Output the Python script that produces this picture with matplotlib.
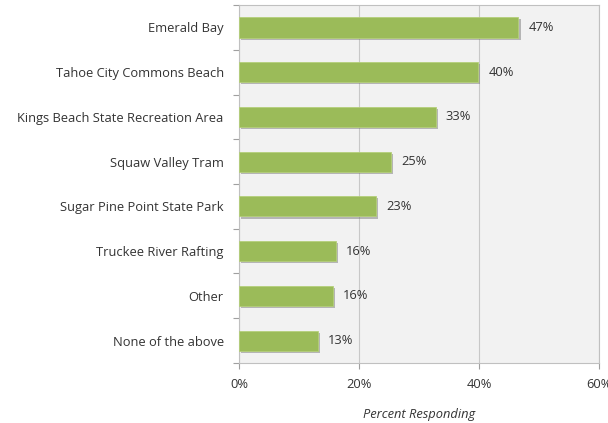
import matplotlib
matplotlib.use("Agg")
import matplotlib.pyplot as plt
import matplotlib.patheffects as pe
from matplotlib.ticker import FuncFormatter, FixedLocator

categories = ["Emerald Bay", "Tahoe City Commons Beach", "Kings Beach State Recreation Area",
              "Squaw Valley Tram", "Sugar Pine Point State Park", "Truckee River Rafting",
              "Other", "None of the above"]
values = [46.6, 39.9, 32.8, 25.3, 22.9, 16.1, 15.6, 13.2]
labels = ["47%", "40%", "33%", "25%", "23%", "16%", "16%", "13%"]
xticks = [0, 20, 40, 60]

plt.rcParams['font.family'] = ['Open Sans', 'DejaVu Sans']
fs = 9.3
tc = '#333333'

fig = plt.figure(figsize=(6.08, 4.23), dpi=100)
ax = fig.add_axes([0.393, 0.142, 0.592, 0.846])
ax.set_facecolor('#F2F2F2')

y = list(range(len(categories)))
bars = ax.barh(y, values, height=0.45, color='#9BBB59', edgecolor='#B5CF7A', linewidth=0.6, zorder=3)
for b in bars:
    b.set_path_effects([pe.SimplePatchShadow(offset=(1.5, -1.5), shadow_rgbFace='#7a7a7a', alpha=0.5), pe.Normal()])

for yi, v, lab in zip(y, values, labels):
    ax.text(v + 1.7, yi, lab, va='center', ha='left', fontsize=fs, color=tc)

ax.set_ylim(len(categories) - 0.5, -0.5)
ax.set_xlim(0, 60)
ax.set_yticks(y)
ax.set_yticklabels(categories, fontsize=fs, color=tc)
ax.yaxis.set_minor_locator(FixedLocator([i - 0.5 for i in range(len(categories) + 1)]))
ax.tick_params(axis='y', which='major', length=0, pad=11)
ax.tick_params(axis='y', which='minor', length=4, color='#A0A0A0', width=0.8)
ax.set_xticks(xticks)
ax.xaxis.set_major_formatter(FuncFormatter(lambda v, p: f"{int(v)}%"))
ax.tick_params(axis='x', length=4, color='#A0A0A0', labelsize=fs, labelcolor=tc, pad=7)
ax.grid(axis='x', color='#C8C8C8', linewidth=0.8, zorder=0)
for s in ax.spines.values():
    s.set_color('#C0C0C0')
    s.set_linewidth(0.8)
ax.set_xlabel('Percent Responding', fontsize=fs, style='italic', color=tc, labelpad=12)

fig.savefig('out.png', dpi=100)
